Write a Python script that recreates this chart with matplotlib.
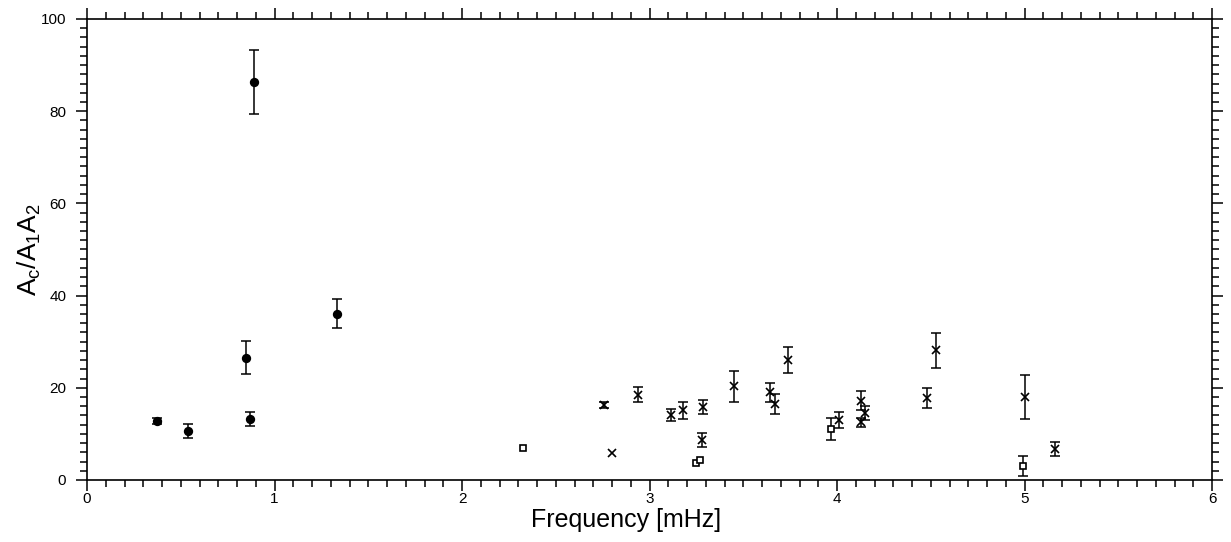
import numpy as np
import matplotlib.pyplot as plt
from matplotlib import rcParams
from matplotlib.ticker import MultipleLocator

rcParams['font.family'] = 'sans-serif'
rcParams['font.sans-serif'] = ['Liberation Sans', 'DejaVu Sans']
rcParams['mathtext.default'] = 'regular'
rcParams['axes.linewidth'] = 1.2

# filled circles (low frequency)
dot_f = [0.374, 0.537, 0.848, 0.870, 0.891, 1.334]
dot_r = [12.8, 10.7, 26.5, 13.3, 86.3, 36.1]
dot_e = [0.6, 1.5, 3.6, 1.5, 7.0, 3.1]

# open squares
sq_f = [2.327, 3.25, 3.27, 3.97, 4.99]
sq_r = [7.0, 3.6, 4.3, 11.1, 3.0]
sq_e = [0.0, 0.0, 0.0, 2.4, 2.1]

# crosses
cr_f = [2.755, 2.80, 2.94, 3.115, 3.18, 3.285, 3.28, 3.45, 3.645, 3.67,
        3.74, 4.01, 4.13, 4.15, 4.13, 4.48, 4.53, 5.0, 5.16]
cr_r = [16.3, 5.8, 18.5, 14.1, 15.1, 15.9, 8.7, 20.3, 19.0, 16.5,
        26.1, 13.0, 17.2, 14.5, 12.5, 17.8, 28.1, 18.0, 6.7]
cr_e = [0.7, 0.0, 1.6, 1.4, 1.9, 1.5, 1.6, 3.4, 2.0, 2.2,
        2.8, 1.8, 2.0, 1.5, 1.0, 2.2, 3.7, 4.7, 1.6]

fig = plt.figure(figsize=(12.31, 5.42), dpi=100)
ax = fig.add_axes([0.0707, 0.1144, 0.9139, 0.8506])


def draw(f, r, e, marker, ms, mfc):
    f, r, e = np.array(f), np.array(r), np.array(e)
    m = e > 0
    ax.errorbar(f[m], r[m], yerr=e[m], fmt='none', ecolor='black',
                elinewidth=1.1, capsize=3.5, capthick=1.1)
    ax.plot(f, r, linestyle='none', marker=marker, ms=ms, mfc=mfc,
            mec='black', mew=1.2, color='black')


draw(dot_f, dot_r, dot_e, 'o', 5.5, 'black')
draw(sq_f, sq_r, sq_e, 's', 5, 'white')
draw(cr_f, cr_r, cr_e, 'x', 6, 'black')

ax.set_xlim(0, 6)
ax.set_ylim(0, 100)
ax.xaxis.set_major_locator(MultipleLocator(1))
ax.xaxis.set_minor_locator(MultipleLocator(0.1))
ax.yaxis.set_major_locator(MultipleLocator(20))
ax.yaxis.set_minor_locator(MultipleLocator(2))
ax.tick_params(which='both', direction='out', top=True, right=True,
               labelsize=11, width=1.1)
ax.tick_params(axis='x', pad=1)
ax.tick_params(axis='y', pad=7)
ax.tick_params(which='major', length=8)
ax.tick_params(which='minor', length=5)

ax.set_xlabel('Frequency [mHz]', fontsize=18)
ax.xaxis.set_label_coords(0.479, -0.06)
ax.set_ylabel(r'$A_c/A_1A_2$', fontsize=19, labelpad=-2)

fig.savefig('out.png', dpi=100)
